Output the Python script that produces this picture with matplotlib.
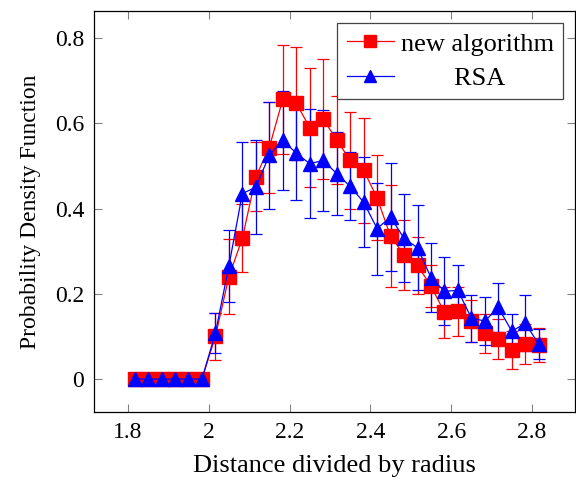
import matplotlib
matplotlib.use("Agg")
import matplotlib.pyplot as plt
from matplotlib.lines import Line2D

plt.rcParams['font.family'] = ['Liberation Serif', 'DejaVu Serif']
plt.rcParams['mathtext.fontset'] = 'stix'

x = [1.8167, 1.85, 1.8833, 1.9167, 1.95, 1.9833, 2.0167, 2.05, 2.0833, 2.1167,
     2.15, 2.1833, 2.2167, 2.25, 2.2833, 2.3167, 2.35, 2.3833, 2.4167, 2.45,
     2.4833, 2.5167, 2.55, 2.5833, 2.6167, 2.65, 2.6833, 2.7167, 2.75, 2.7833, 2.8167]

new_alg = [0, 0, 0, 0, 0, 0, 0.10, 0.24, 0.33, 0.475,
           0.543, 0.656, 0.647, 0.59, 0.61, 0.561, 0.513, 0.49, 0.425, 0.335,
           0.292, 0.267, 0.218, 0.157, 0.159, 0.136, 0.107, 0.094, 0.068, 0.082, 0.080]
new_err = [0, 0, 0, 0, 0, 0, 0.056, 0.088, 0.08, 0.08,
           0.107, 0.128, 0.133, 0.14, 0.14, 0.103, 0.113, 0.123, 0.10, 0.12,
           0.082, 0.067, 0.05, 0.06, 0.058, 0.05, 0.045, 0.047, 0.045, 0.046, 0.04]

rsa = [0, 0, 0, 0, 0, 0, 0.108, 0.265, 0.435, 0.45,
       0.525, 0.56, 0.53, 0.505, 0.513, 0.482, 0.452, 0.415, 0.353, 0.38,
       0.33, 0.308, 0.238, 0.206, 0.208, 0.143, 0.136, 0.168, 0.112, 0.131, 0.082]
rsa_err = [0, 0, 0, 0, 0, 0, 0.048, 0.085, 0.12, 0.11,
           0.125, 0.116, 0.11, 0.128, 0.118, 0.098, 0.08, 0.105, 0.108, 0.126,
           0.103, 0.1, 0.08, 0.08, 0.06, 0.055, 0.056, 0.057, 0.04, 0.065, 0.035]

labels = ['new algorithm', 'RSA']

fig = plt.figure(figsize=(5.76, 4.84), dpi=100)
ax = fig.add_axes([0.163, 0.149, 0.835, 0.828])

ax.errorbar(x, new_alg, yerr=new_err, color='#ff0000', marker='s', markersize=9.5,
            linewidth=0.9, elinewidth=0.9, capsize=4, capthick=0.9)
ax.errorbar(x, rsa, yerr=rsa_err, color='#0000ff', marker='^', markersize=9.5,
            linewidth=0.9, elinewidth=0.9, capsize=4, capthick=0.9)

ax.set_xlim(1.716, 2.906)
ax.set_ylim(-0.077, 0.863)
ax.set_xticks([1.8, 2.0, 2.2, 2.4, 2.6, 2.8])
ax.set_xticklabels(['1.8', '2', '2.2', '2.4', '2.6', '2.8'])
ax.set_yticks([0, 0.2, 0.4, 0.6, 0.8])
ax.set_yticklabels(['0', '0.2', '0.4', '0.6', '0.8'])
ax.tick_params(direction='in', top=True, right=True, length=6, width=0.8,
               color='#808080', labelsize=17, pad=7)
for s in ax.spines.values():
    s.set_linewidth(0.9)

ax.set_xlabel('Distance divided by radius', fontsize=19, labelpad=9)
ax.set_ylabel('Probability Density Function', fontsize=17, labelpad=10)

handles = [Line2D([], [], color='#ff0000', marker='s', markersize=8, linewidth=0.9),
           Line2D([], [], color='#0000ff', marker='^', markersize=8, linewidth=0.9)]
leg = ax.legend(handles, [labels[0], '        ' + labels[1]], loc='upper right',
                fontsize=19, fancybox=False, framealpha=1, edgecolor='#444444',
                borderpad=0.35, handlelength=1.8, handletextpad=0.25,
                labelspacing=0.4, borderaxespad=0.45)
leg.get_frame().set_linewidth(0.9)

fig.savefig('out.png', dpi=100)
